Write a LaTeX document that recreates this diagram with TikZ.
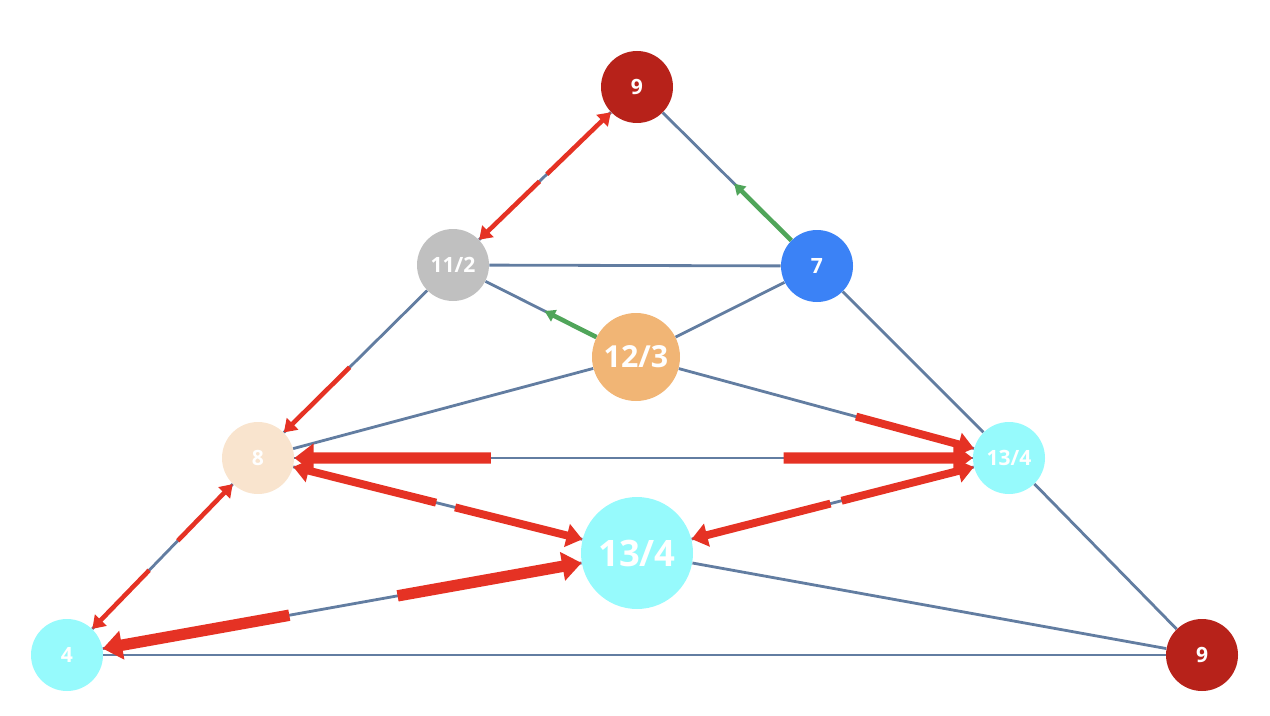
\documentclass[tikz,border=0pt]{standalone}
\usepackage{fontspec}
\setmainfont{Open Sans}
\usetikzlibrary{calc,arrows.meta}
\begin{document}
\begin{tikzpicture}[x=0.02cm,y=-0.02cm]
% Styles
\tikzset{
  sommet/.style={circle,inner sep=0pt,text=white,font=\bfseries},
  arete/.style={draw={rgb,255:red,98;green,125;blue,161},line width=1.6pt},
  rouge/.style={-{Triangle[length=7pt,width=9pt]},draw={rgb,255:red,229;green,50;blue,36},line width=2.6pt},
  rougeM/.style={rouge,line width=4.5pt,-{Triangle[length=9pt,width=13pt]}},
  rougeG/.style={rouge,line width=6.5pt,-{Triangle[length=11pt,width=16pt]}},
  vert/.style={-{Triangle[length=6pt,width=7pt]},draw={rgb,255:red,80;green,165;blue,90},line width=2.6pt}
}
\useasboundingbox (0,0) rectangle (1270,716);
% Sommets
\node[sommet,fill={rgb,255:red,183;green,34;blue,26},minimum size=72*0.02cm,font=\bfseries\large] (haut) at (637,87) {9};
\node[sommet,fill={rgb,255:red,192;green,192;blue,192},minimum size=72*0.02cm,font=\bfseries\large] (onze) at (453,265) {11/2};
\node[sommet,fill={rgb,255:red,59;green,130;blue,246},minimum size=72*0.02cm,font=\bfseries\large] (sept) at (817,266) {7};
\node[sommet,fill={rgb,255:red,241;green,181;blue,117},minimum size=88*0.02cm,font=\bfseries\LARGE] (douze) at (636,357) {12/3};
\node[sommet,fill={rgb,255:red,249;green,228;blue,206},minimum size=72*0.02cm,font=\bfseries\large] (huit) at (258,458) {8};
\node[sommet,fill={rgb,255:red,150;green,250;blue,252},minimum size=72*0.02cm,font=\bfseries\large] (droite) at (1009,458) {13/4};
\node[sommet,fill={rgb,255:red,150;green,250;blue,252},minimum size=112*0.02cm,font=\bfseries\huge] (centre) at (637,553) {13/4};
\node[sommet,fill={rgb,255:red,150;green,250;blue,252},minimum size=72*0.02cm,font=\bfseries\large] (quatre) at (67,655) {4};
\node[sommet,fill={rgb,255:red,183;green,34;blue,26},minimum size=72*0.02cm,font=\bfseries\large] (bas) at (1202,655) {9};
% Aretes
\begin{scope}[on background layer/.style={}]
\end{scope}
\begin{pgfonlayer}{main}\end{pgfonlayer}
\foreach \a/\b in {haut/onze,onze/huit,huit/quatre,haut/sept,sept/droite,droite/bas,quatre/bas,
  onze/sept,onze/douze,sept/douze,douze/huit,douze/droite,huit/droite,huit/centre,centre/droite,
  quatre/centre,centre/bas}
  \path[arete] (\a) -- (\b);
% Points de coupure
\coordinate (p1) at ($(onze)!0.47!(haut)$);
\coordinate (q1) at ($(onze)!0.51!(haut)$);
\coordinate (p2) at ($(onze)!0.53!(huit)$);
\coordinate (p3) at ($(huit)!0.42!(quatre)$);
\coordinate (q3) at ($(huit)!0.57!(quatre)$);
\coordinate (p4) at ($(huit)!0.31!(droite)$);
\coordinate (q4) at ($(huit)!0.70!(droite)$);
\coordinate (p5) at ($(huit)!0.47!(centre)$);
\coordinate (q5) at ($(huit)!0.52!(centre)$);
\coordinate (p6) at ($(droite)!0.45!(centre)$);
\coordinate (q6) at ($(droite)!0.48!(centre)$);
\coordinate (p7) at ($(quatre)!0.39!(centre)$);
\coordinate (q7) at ($(quatre)!0.58!(centre)$);
\coordinate (p8) at ($(douze)!0.59!(droite)$);
\coordinate (v1) at ($(sept)!0.46!(haut)$);
\coordinate (v2) at ($(douze)!0.5!(onze)$);
% Flèches
\draw[rouge] (p1) -- (onze);
\draw[rouge] (q1) -- (haut);
\draw[rouge] (p2) -- (huit);
\draw[rouge] (p3) -- (huit);
\draw[rouge] (q3) -- (quatre);
\draw[rougeG] (p4) -- (huit);
\draw[rougeG] (q4) -- (droite);
\draw[rougeM] (p5) -- (huit);
\draw[rougeM] (q5) -- (centre);
\draw[rougeM] (p6) -- (droite);
\draw[rougeM] (q6) -- (centre);
\draw[rougeG] (p7) -- (quatre);
\draw[rougeG] (q7) -- (centre);
\draw[rougeM] (douze) ++(0,0) (p8) -- (droite);
\draw[vert] (sept) -- (v1);
\draw[vert] (douze) -- (v2);
\end{tikzpicture}
\end{document}
